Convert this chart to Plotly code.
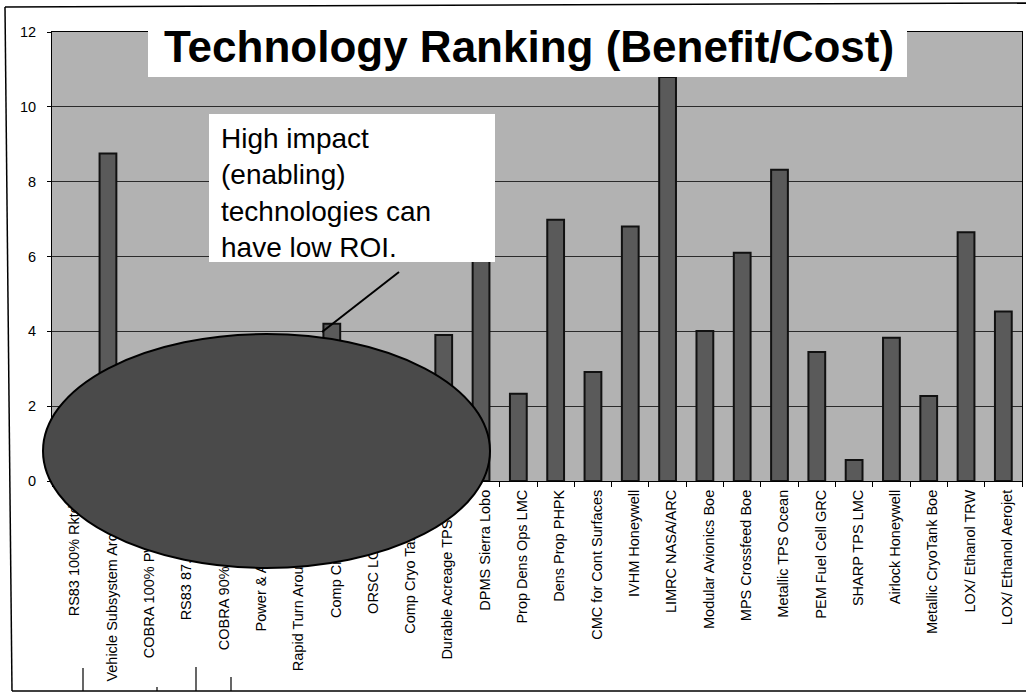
import plotly.graph_objects as go

categories = [
    "RS83 100% Rktdyn", "Vehicle Subsystem Arch NGC", "COBRA 100% PW Aerojet",
    "RS83 87.5% Rktdyn", "COBRA 90% PW Aerojet", "Power & Avionics Boe",
    "Rapid Turn Around Ops Boe", "Comp Crew Module", "ORSC LOX Aerojet",
    "Comp Cryo Tank NGC", "Durable Acreage TPS Boe", "DPMS Sierra Lobo",
    "Prop Dens Ops LMC", "Dens Prop PHPK", "CMC for Cont Surfaces",
    "IVHM Honeywell", "LIMRC NASA/ARC", "Modular Avionics Boe",
    "MPS Crossfeed Boe", "Metallic TPS Ocean", "PEM Fuel Cell GRC",
    "SHARP TPS LMC", "Airlock Honeywell", "Metallic CryoTank Boe",
    "LOX/ Ethanol TRW", "LOX/ Ethanol Aerojet",
]
benefit_cost = [
    1.5, 8.75, 2.4, 1.7, 2.2, 3.1,
    2.8, 4.2, 1.5, 2.6, 3.9, 6.5,
    2.33, 6.98, 2.91, 6.8, 10.8, 4.01,
    6.1, 8.32, 3.45, 0.56, 3.83, 2.27,
    6.65, 4.53,
]
y_ticks = [0, 2, 4, 6, 8, 10, 12]

W, H = 1026, 693
ML, MR, MT, MB = 52, 4, 32, 212
PW, PH = W - ML - MR, H - MT - MB


def px(x):
    return (x - ML) / PW


def py(y):
    return (H - MB - y) / PH


fig = go.Figure(go.Bar(
    x=categories, y=benefit_cost,
    marker=dict(color="#5a5a5a", line=dict(color="#111111", width=2)),
))

shapes = [
    # title box
    dict(type="rect", xref="paper", yref="paper", x0=px(148), x1=px(907),
         y0=py(77), y1=py(22), fillcolor="white", line=dict(width=0), layer="above"),
    # callout box
    dict(type="rect", xref="paper", yref="paper", x0=px(209), x1=px(495),
         y0=py(262), y1=py(114), fillcolor="white", line=dict(width=0), layer="above"),
    # pointer line
    dict(type="line", xref="paper", yref="paper", x0=px(399), y0=py(272),
         x1=px(322), y1=py(332), line=dict(color="black", width=2), layer="above"),
    # ellipse
    dict(type="circle", xref="paper", yref="paper", x0=px(43), x1=px(490),
         y0=py(568), y1=py(334), fillcolor="#4a4a4a",
         line=dict(color="black", width=2), layer="above"),
    # page frame
    dict(type="line", xref="paper", yref="paper", x0=px(5), y0=py(7), x1=px(1026), y1=py(3),
         line=dict(color="black", width=1.5), layer="above"),
    dict(type="line", xref="paper", yref="paper", x0=px(5), y0=py(7), x1=px(12), y1=py(691),
         line=dict(color="black", width=1.5), layer="above"),
    dict(type="line", xref="paper", yref="paper", x0=px(12), y0=py(691), x1=px(1026), y1=py(691),
         line=dict(color="black", width=1.5), layer="above"),
]
for xx, ytop in [(83, 668), (157, 687), (196, 667), (231, 677)]:
    shapes.append(dict(type="line", xref="paper", yref="paper", x0=px(xx), x1=px(xx),
                       y0=py(ytop), y1=py(691), line=dict(color="black", width=1.2),
                       layer="above"))

annotations = [
    dict(xref="paper", yref="paper", x=px(529), y=py(46), xanchor="center", yanchor="middle",
         text="<b>Technology Ranking (Benefit/Cost)</b>", showarrow=False,
         font=dict(family="Liberation Sans, Arial", size=44, color="black")),
    dict(xref="paper", yref="paper", x=px(219), y=py(193), xanchor="left", yanchor="middle",
         align="left", showarrow=False,
         text="High impact<br>(enabling)<br>technologies can<br>have low ROI.",
         font=dict(family="Liberation Sans, Arial", size=28, color="black")),
]

fig.update_layout(
    width=W, height=H,
    margin=dict(l=ML, r=MR, t=MT, b=MB, pad=0),
    paper_bgcolor="white", plot_bgcolor="#b2b2b2",
    showlegend=False, bargap=0.55,
    font=dict(family="Liberation Sans, Arial", color="black"),
    xaxis=dict(
        type="category", tickangle=-90, tickfont=dict(size=14.5, color="black"),
        showline=True, linecolor="black", linewidth=1, mirror=True,
        ticks="outside", tickson="boundaries", ticklen=5, tickcolor="black",
        showgrid=False, automargin=False, ticklabelshift=4, ticklabelstandoff=2,
    ),
    yaxis=dict(
        range=[0, 12], tickvals=y_ticks, tickfont=dict(size=14.5, color="black"),
        showline=True, linecolor="black", linewidth=1, mirror=True,
        ticks="outside", ticklen=4, tickcolor="black",
        showgrid=True, gridcolor="#2a2a2a", gridwidth=1,
        zeroline=False, automargin=False, ticklabelstandoff=8,
    ),
    shapes=shapes, annotations=annotations,
)

fig.write_html("out.html", config={"displayModeBar": False},
               post_script="document.body.style.margin='0';")
